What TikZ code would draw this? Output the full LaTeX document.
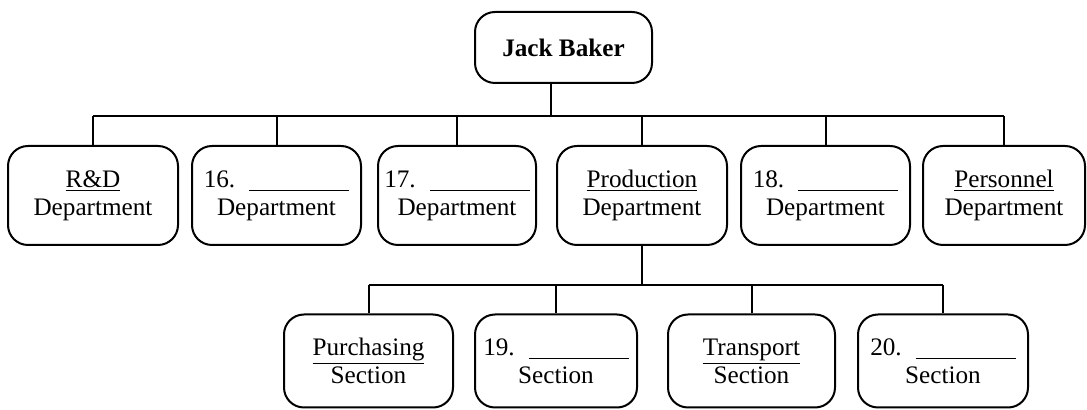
\documentclass[tikz,border=0pt]{standalone}
\usepackage{fontspec}
\setmainfont{Liberation Serif}
\usepackage{tikz}
\newcommand{\blank}[1] {
  #1\hspace{7pt}\underline{\hspace{50pt}}}

\begin{document}
\begin{tikzpicture}[x=0.5pt,y=-0.5pt,line width=1pt,font=\fontsize{12.6pt}{14pt}\selectfont,
	box/.style={draw,rounded corners=10pt,align=center,inner sep=2pt}]
					\useasboundingbox (0,0) rectangle (1087,410);
					%BOSS
					\node[box,minimum width=88.5pt,minimum height=35.5pt] (jack) at (563.5,47.5) {\textbf{Jack Baker}};
					%DEPARTMENTS
					\node[box,minimum width=85pt,minimum height=49.5pt] (rd) at (93,195.5) {\underline{R\&D}\\Department};
					\node[box,minimum width=84.5pt,minimum height=49.5pt] (d16) at (276.5,195.5) {\blank{16.}\\Department};
					\node[box,minimum width=79pt,minimum height=49.5pt] (d17) at (457,195.5) {\blank{17.}\\Department};
					\node[box,minimum width=85pt,minimum height=49.5pt] (prod) at (642,195.5) {\underline{Production}\\Department};
					\node[box,minimum width=84.5pt,minimum height=49.5pt] (d18) at (825.5,195.5) {\blank{18.}\\Department};
					\node[box,minimum width=81pt,minimum height=49.5pt] (pers) at (1004,195.5) {\underline{Personnel}\\Department};
					%SECTIONS
					\node[box,minimum width=84.5pt,minimum height=46.5pt] (purch) at (368.5,361) {\underline{Purchasing}\\Section};
					\node[box,minimum width=81pt,minimum height=46.5pt] (s19) at (556,361) {\blank{19.}\\Section};
					\node[box,minimum width=83.5pt,minimum height=46.5pt] (trans) at (751.5,361) {\underline{Transport}\\Section};
					\node[box,minimum width=85pt,minimum height=46.5pt] (s20) at (943,361) {\blank{20.}\\Section};
					%LINES
					\coordinate (bus) at (0,116);
					\coordinate (sub) at (0,285);
					\draw ([xshift=-6.5pt]jack.south) -- ([xshift=-6.5pt]jack.south |- bus);
					\draw (rd.north |- bus) -- (pers.north |- bus);
					\foreach \d in {rd,d16,d17,prod,d18,pers}
						\draw (\d.north) -- (\d.north |- bus);
					\draw (prod.south) -- (prod.south |- sub);
					\draw (purch.north |- sub) -- (s20.north |- sub);
					\foreach \s in {purch,s19,trans,s20}
						\draw (\s.north) -- (\s.north |- sub);
	  \end{tikzpicture}
\end{document}
